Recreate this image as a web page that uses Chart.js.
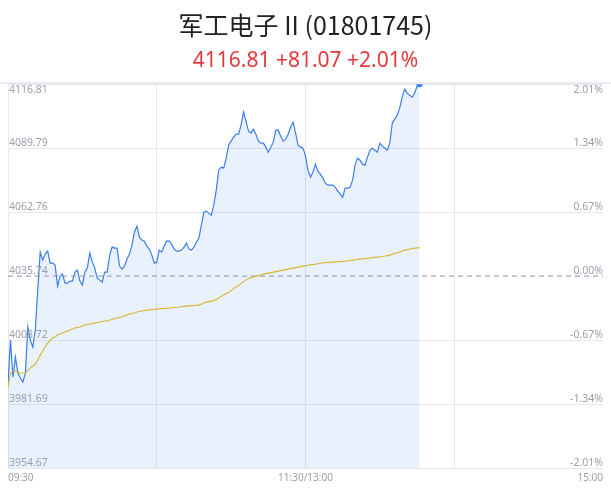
<!DOCTYPE html>
<html>
<head>
<meta charset="utf-8">
<script src="https://cdn.jsdelivr.net/npm/chart.js"></script>
<style>
  body { margin: 0; background: #fff; }
  #wrap { width: 611px; height: 492px; }
</style>
</head>
<body>
<div id="wrap"><canvas id="chart" width="611" height="492"></canvas></div>
<script>
const titleText = '军工电子 II (01801745)';
const subtitleText = '4116.81 +81.07 +2.01%';

const prevClose = 4035.74;
const yTicks = [3954.67, 3981.69, 4008.72, 4035.74, 4062.76, 4089.79, 4116.81];
const xTickPos = [0, 120, 240];
const xTickText = ['09:30', '11:30/13:00', '15:00'];

// one value per minute, 09:30 onwards (afternoon continues after index 120)
const price = [
  3990.56, 4008.72, 3993.09, 4001.54, 3994.78, 3992.67, 3990.98, 3994.78, 4014.21, 4008.72,
  4005.76, 4012.94, 4029.83, 4045.87, 4042.50, 4045.03, 4046.30, 4041.23, 4041.23, 4040.38,
  4031.52, 4035.74, 4036.58, 4032.78, 4032.78, 4033.63, 4033.63, 4037.43, 4038.27, 4033.63,
  4031.94, 4037.43, 4039.12, 4045.45, 4041.65, 4039.12, 4034.90, 4034.05, 4033.21, 4037.43,
  4037.43, 4044.61, 4047.98, 4047.56, 4047.56, 4039.96, 4038.70, 4039.96, 4042.92, 4045.03,
  4048.83, 4054.32, 4056.85, 4052.21, 4050.94, 4050.52, 4048.41, 4047.14, 4044.61, 4041.23,
  4041.65, 4046.72, 4045.87, 4048.41, 4050.52, 4050.52, 4049.25, 4047.14, 4046.30, 4046.30,
  4046.72, 4047.98, 4049.67, 4047.14, 4046.72, 4047.98, 4050.10, 4051.79, 4057.27, 4062.76,
  4063.19, 4062.34, 4061.50, 4065.72, 4072.05, 4080.50, 4081.76, 4081.34, 4085.56, 4091.05,
  4092.74, 4094.43, 4095.70, 4095.70, 4099.50, 4104.99, 4101.19, 4096.96, 4096.12, 4097.81,
  4095.70, 4092.74, 4091.90, 4091.90, 4090.21, 4088.10, 4090.21, 4092.32, 4097.39, 4097.39,
  4094.85, 4092.74, 4093.59, 4095.70, 4098.65, 4100.76, 4096.12, 4091.05, 4090.21, 4089.79,
  4086.41, 4080.50, 4077.54, 4079.65, 4083.03, 4080.08, 4078.81, 4077.12, 4075.01, 4074.16,
  4074.16, 4074.16, 4073.32, 4071.63, 4070.36, 4069.10, 4072.90, 4072.90, 4073.32, 4076.27,
  4082.61, 4085.56, 4084.72, 4083.03, 4082.61, 4085.99, 4088.94, 4089.79, 4088.94, 4088.10,
  4091.90, 4090.63, 4089.79, 4088.94, 4091.90, 4100.34, 4102.03, 4103.72, 4106.68, 4111.32,
  4114.70, 4113.01, 4112.17, 4111.32, 4113.01, 4115.97, 4116.81
];

const avgPrice = [
  3988.87, 3994.78, 3995.63, 3995.63, 3995.20, 3994.78, 3994.78, 3994.78, 3996.05, 3996.89,
  3997.74, 3998.58, 4000.27, 4002.38, 4004.07, 4005.76, 4007.45, 4008.72, 4009.56, 4009.98,
  4010.83, 4011.25, 4011.67, 4012.09, 4012.52, 4012.94, 4013.36, 4013.78, 4013.99, 4014.21,
  4014.63, 4015.05, 4015.26, 4015.47, 4015.68, 4015.89, 4016.11, 4016.32, 4016.53, 4016.74,
  4016.74, 4017.16, 4017.37, 4017.79, 4018.01, 4018.22, 4018.43, 4018.85, 4019.27, 4019.69,
  4019.91, 4020.12, 4020.54, 4020.75, 4020.96, 4021.17, 4021.38, 4021.46, 4021.59, 4021.68,
  4021.81, 4021.89, 4021.97, 4022.06, 4022.14, 4022.23, 4022.35, 4022.48, 4022.61, 4022.69,
  4022.82, 4022.94, 4023.07, 4023.16, 4023.24, 4023.33, 4023.41, 4023.49, 4023.92, 4024.34,
  4024.76, 4024.97, 4025.18, 4025.39, 4025.82, 4026.45, 4027.08, 4027.72, 4028.35, 4028.77,
  4029.62, 4030.46, 4031.10, 4031.73, 4032.57, 4033.42, 4034.05, 4034.68, 4035.11, 4035.32,
  4035.74, 4035.95, 4036.16, 4036.58, 4036.80, 4037.01, 4037.22, 4037.43, 4037.64, 4037.85,
  4038.06, 4038.27, 4038.49, 4038.70, 4038.91, 4039.12, 4039.33, 4039.54, 4039.75, 4039.96,
  4040.13, 4040.30, 4040.47, 4040.64, 4040.81, 4040.97, 4041.14, 4041.31, 4041.40, 4041.48,
  4041.57, 4041.65, 4041.74, 4041.82, 4041.90, 4041.99, 4042.07, 4042.20, 4042.33, 4042.50,
  4042.62, 4042.75, 4042.92, 4043.00, 4043.13, 4043.25, 4043.38, 4043.51, 4043.64, 4043.76,
  4043.93, 4044.10, 4044.23, 4044.40, 4044.61, 4044.94, 4045.28, 4045.58, 4045.96, 4046.38,
  4046.72, 4047.01, 4047.22, 4047.39, 4047.56, 4047.65, 4047.77
];

const labelFont = '10.5px "Noto Sans", "DejaVu Sans", sans-serif';
const labelColor = '#9a9fac';

//top rule + price / percent labels drawn on the chart area
const axisLabels = {
  id: 'axisLabels',
  beforeDraw(chart) {
    const ctx = chart.ctx;
    const top = chart.chartArea.top;
    ctx.save();
    ctx.fillStyle = '#e8e9ef';
    ctx.fillRect(0, top - 2, chart.width, 2);
    ctx.restore();
  },
  afterDraw(chart) {
    const ctx = chart.ctx;
    const y = chart.scales.y;
    const area = chart.chartArea;
    ctx.save();
    ctx.font = labelFont;
    ctx.fillStyle = labelColor;
    y.ticks.forEach((t, i) => {
      const py = y.getPixelForValue(t.value);
      const top = i === y.ticks.length - 1;
      ctx.textBaseline = top ? 'top' : 'alphabetic';
      const ty = top ? py + 1 : py - 2;
      const pct = ((t.value - prevClose) / prevClose * 100).toFixed(2) + '%';
      ctx.textAlign = 'left';
      ctx.fillText(t.value.toFixed(2), area.left + 1, ty);
      ctx.textAlign = 'right';
      ctx.fillText(pct, area.right, ty);
    });
    ctx.restore();
  }
};

const last = price.length - 1;

new Chart(document.querySelector('#chart'), {
  type: 'line',
  data: {
    datasets: [{
      label: 'price',
      data: price.map((v, i) => ({ x: i, y: v })),
      borderColor: '#3b7eea',
      borderWidth: 1.2,
      backgroundColor: 'rgba(59,126,234,0.11)',
      fill: 'start',
      tension: 0,
      pointRadius: (c) => c.dataIndex === last ? 3 : 0,
      pointBackgroundColor: '#3b7eea',
      pointBorderWidth: 0,
      order: 3
    }, {
      label: 'avg',
      data: avgPrice.map((v, i) => ({ x: i, y: v })),
      borderColor: '#d6b62e',
      borderWidth: 1.1,
      pointRadius: 0,
      fill: false,
      order: 1
    }, {
      label: 'prev close',
      data: [{ x: 0, y: prevClose }, { x: 240, y: prevClose }],
      borderColor: '#8891b4',
      borderWidth: 1,
      borderDash: [5, 4],
      pointRadius: 0,
      fill: false,
      order: 2
    }]
  },
  options: {
    responsive: false,
    animation: false,
    layout: { padding: { left: 8, right: 8, bottom: 4 } },
    plugins: {
      legend: { display: false },
      tooltip: { enabled: false },
      filler: { drawTime: 'beforeDatasetsDraw' },
      title: {
        display: true,
        text: titleText,
        color: '#222',
        font: { family: '"Noto Sans CJK SC", "Noto Sans", sans-serif', size: 25, weight: 'normal' },
        padding: { top: 10, bottom: 8 }
      },
      subtitle: {
        display: true,
        text: subtitleText,
        color: '#e5383b',
        font: { family: '"Noto Sans", sans-serif', size: 21 },
        padding: { top: 0, bottom: 11 }
      }
    },
    scales: {
      x: {
        type: 'linear',
        min: 0,
        max: 240,
        afterBuildTicks: (s) => { s.ticks = [0, 60, 120, 180, 240].map(v => ({ value: v })); },
        ticks: {
          autoSkip: false,
          maxRotation: 0,
          align: 'inner',
          padding: 4,
          color: labelColor,
          font: { family: '"Noto Sans", "DejaVu Sans", sans-serif', size: 10 },
          callback: (v) => {
            const k = xTickPos.indexOf(v);
            return k >= 0 ? xTickText[k] : '';
          }
        },
        grid: {
          drawTicks: false,
          color: (c) => c.tick && c.tick.value === 240 ? 'rgba(0,0,0,0)' : '#e6e8ef'
        },
        border: { display: false }
      },
      y: {
        min: yTicks[0],
        max: yTicks[yTicks.length - 1],
        afterBuildTicks: (s) => { s.ticks = yTicks.map(v => ({ value: v })); },
        ticks: { display: false },
        grid: {
          drawTicks: false,
          color: (c) => c.tick && c.tick.value === prevClose ? 'rgba(0,0,0,0)' : '#e6e8ef'
        },
        border: { display: false }
      }
    }
  },
  plugins: [axisLabels]
});
</script>
</body>
</html>
